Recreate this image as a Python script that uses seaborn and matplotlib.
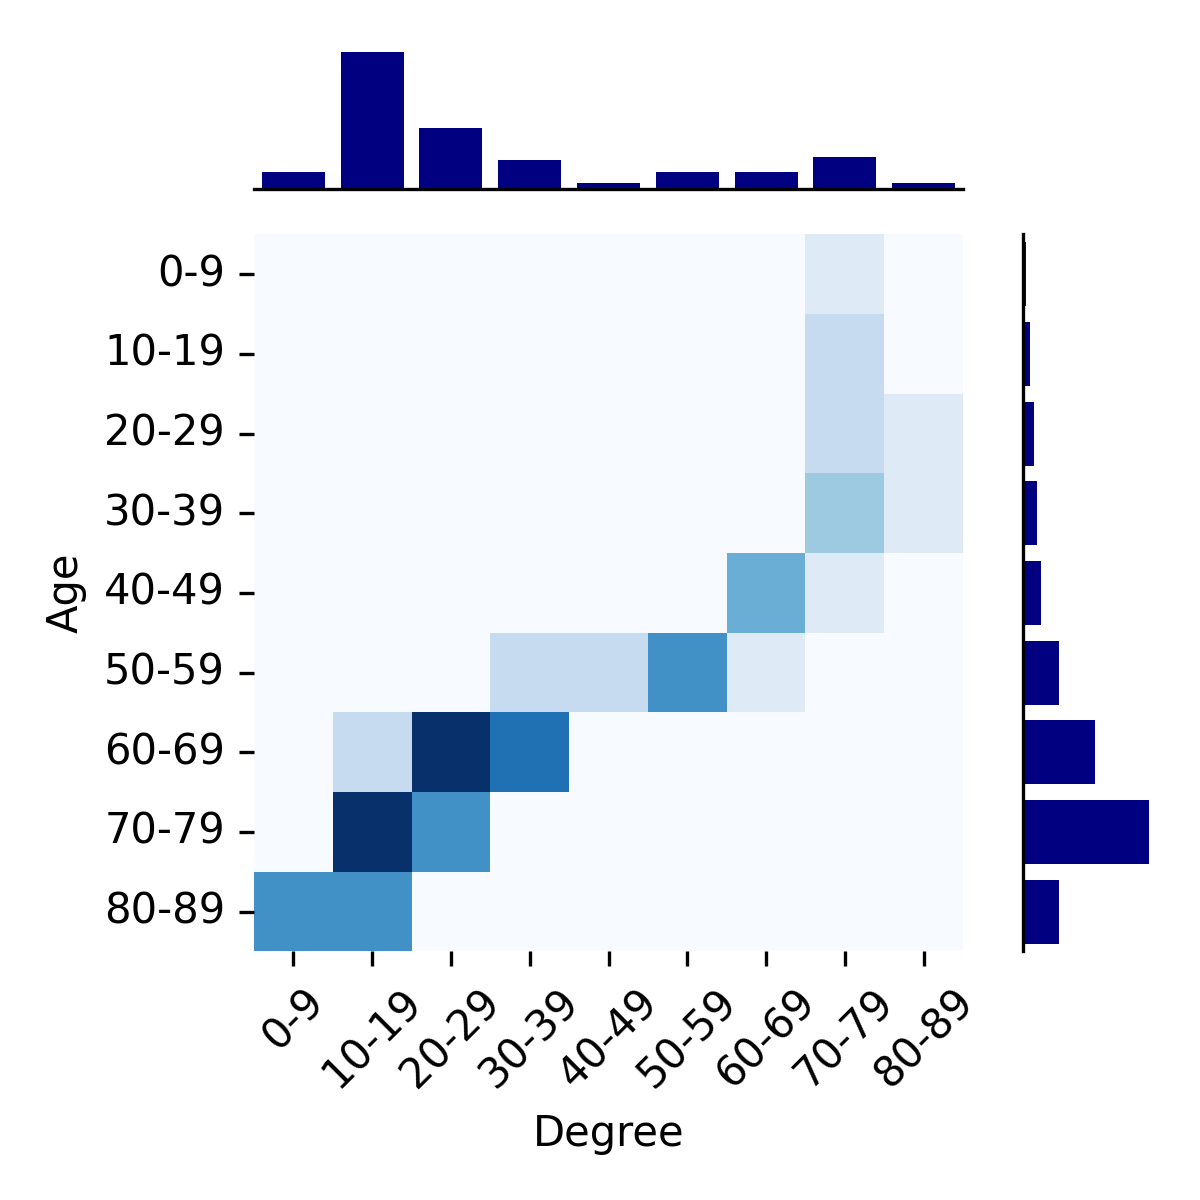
# Heatmap of age vs degree with marginal bar plots
import numpy as np
import pandas as pd
import seaborn as sns
import matplotlib.pyplot as plt

# bins used for both axes
bins = ['0-9', '10-19', '20-29', '30-39', '40-49', '50-59', '60-69', '70-79', '80-89']

# counts per (age row, degree column)
row_0_9   = [0, 0, 0, 0, 0, 0, 0, 1, 0]
row_10_19 = [0, 0, 0, 0, 0, 0, 0, 2, 0]
row_20_29 = [0, 0, 0, 0, 0, 0, 0, 2, 1]
row_30_39 = [0, 0, 0, 0, 0, 0, 0, 3, 1]
row_40_49 = [0, 0, 0, 0, 0, 0, 4, 1, 0]
row_50_59 = [0, 0, 0, 2, 2, 5, 1, 0, 0]
row_60_69 = [0, 2, 8, 6, 0, 0, 0, 0, 0]
row_70_79 = [0, 8, 5, 0, 0, 0, 0, 0, 0]
row_80_89 = [5, 5, 0, 0, 0, 0, 0, 0, 0]

# marginal totals
degree_totals = [5, 40, 18, 8.5, 1.8, 5, 5, 9.4, 1.8]
age_totals = [0.6, 1.8, 2.9, 3.75, 4.9, 10, 20, 35, 10]

matrix = pd.DataFrame(
    [row_0_9, row_10_19, row_20_29, row_30_39, row_40_49,
     row_50_59, row_60_69, row_70_79, row_80_89],
    index=bins, columns=bins)

fig = plt.figure(figsize=(4, 4), dpi=300)
ax_heat = fig.add_axes([0.2117, 0.2071, 0.5908, 0.5975])
ax_top = fig.add_axes([0.2117, 0.8421, 0.5908, 0.12])
ax_right = fig.add_axes([0.8529, 0.2071, 0.11, 0.5975])

sns.heatmap(matrix, cmap='Blues', vmin=0, vmax=8, cbar=False, ax=ax_heat)
ax_heat.set_xlabel('Degree')
ax_heat.set_ylabel('Age')
ax_heat.set_xticklabels(bins, rotation=45)
ax_heat.set_yticklabels(bins, rotation=0)

# top marginal: totals per degree bin
sns.barplot(x=bins, y=degree_totals, color='navy', saturation=1, ax=ax_top)
ax_top.set_xlim(-0.5, 8.5)
ax_top.set_ylim(0, max(degree_totals) * 1.05)
ax_top.set_xticks([])
ax_top.set_yticks([])
ax_top.set_xlabel('')
ax_top.set_ylabel('')
sns.despine(ax=ax_top, left=True)

# right marginal: totals per age bin
sns.barplot(x=age_totals, y=bins, orient='h', color='navy', saturation=1, ax=ax_right)
ax_right.set_ylim(8.5, -0.5)
ax_right.set_xlim(0, max(age_totals) * 1.05)
ax_right.set_xticks([])
ax_right.set_yticks([])
ax_right.set_xlabel('')
ax_right.set_ylabel('')
sns.despine(ax=ax_right, bottom=True)

plt.savefig('out.png', dpi=300)
